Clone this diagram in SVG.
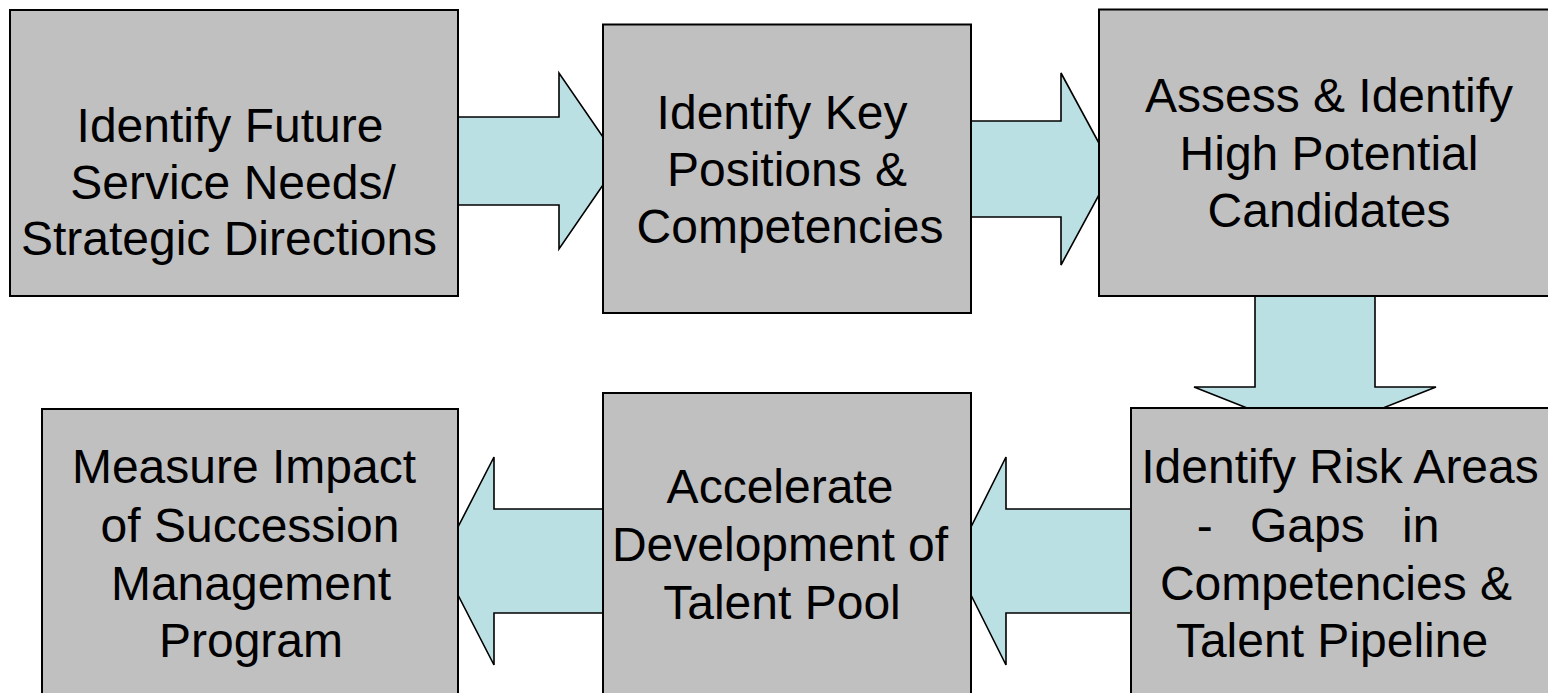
<svg xmlns="http://www.w3.org/2000/svg" width="1548" height="693" viewBox="0 0 1548 693">
  <style>
    .box { fill: #c0c0c0; stroke: #000; stroke-width: 2; }
    .arrow { fill: #bbe0e3; stroke: #000; stroke-width: 1.6; stroke-linejoin: miter; }
    .label { font-family: "Liberation Sans", Arial, sans-serif; font-size: 48px; fill: #000; text-anchor: middle; }
  </style>
  <rect width="1548" height="693" fill="#fff"/>

  <!-- block arrows between the steps (drawn first so the boxes cover their ends) -->
  <g id="connectors">
    <polygon class="arrow" points="450,117 559,117 559,73 619.5,161 559,249 559,205 450,205"/>
    <polygon class="arrow" points="960,121 1061,121 1061,73 1113,169 1061,265 1061,217 960,217"/>
    <polygon class="arrow" points="1255,290 1375,290 1375,387 1436,387 1315,435 1194,387 1255,387"/>
    <polygon class="arrow" points="1140,509 1006,509 1006,457 954,561 1006,665 1006,613 1140,613"/>
    <polygon class="arrow" points="610,509 494,509 494,457 440.5,561 494,665 494,613 610,613"/>
  </g>

  <g id="step1">
    <rect class="box" x="10" y="10" width="448" height="286"/>
    <text class="label"><tspan x="230" y="142">Identify Future</tspan><tspan x="233" y="199">Service Needs/</tspan><tspan x="229" y="255">Strategic Directions</tspan></text>
  </g>

  <g id="step2">
    <rect class="box" x="603" y="24.5" width="368" height="288.5"/>
    <text class="label"><tspan x="782" y="129">Identify Key</tspan><tspan x="787" y="186">Positions &amp;</tspan><tspan x="790" y="243">Competencies</tspan></text>
  </g>

  <g id="step3">
    <rect class="box" x="1099" y="9.5" width="470" height="286.5"/>
    <text class="label"><tspan x="1329" y="112">Assess &amp; Identify</tspan><tspan x="1329" y="170">High Potential</tspan><tspan x="1329" y="227">Candidates</tspan></text>
  </g>

  <g id="step4">
    <rect class="box" x="1131" y="408" width="440" height="300"/>
    <text class="label"><tspan x="1340" y="483">Identify Risk Areas</tspan><tspan x="1318" y="542" word-spacing="24">- Gaps in</tspan><tspan x="1336" y="600">Competencies &amp;</tspan><tspan x="1332" y="657">Talent Pipeline</tspan></text>
  </g>

  <g id="step5">
    <rect class="box" x="603" y="393" width="368" height="320"/>
    <text class="label"><tspan x="780" y="503">Accelerate</tspan><tspan x="780" y="561">Development of</tspan><tspan x="782" y="619">Talent Pool</tspan></text>
  </g>

  <g id="step6">
    <rect class="box" x="42" y="409" width="416" height="300"/>
    <text class="label"><tspan x="244" y="483">Measure Impact</tspan><tspan x="250" y="542">of Succession</tspan><tspan x="251" y="600">Management</tspan><tspan x="251" y="657">Program</tspan></text>
  </g>
</svg>
